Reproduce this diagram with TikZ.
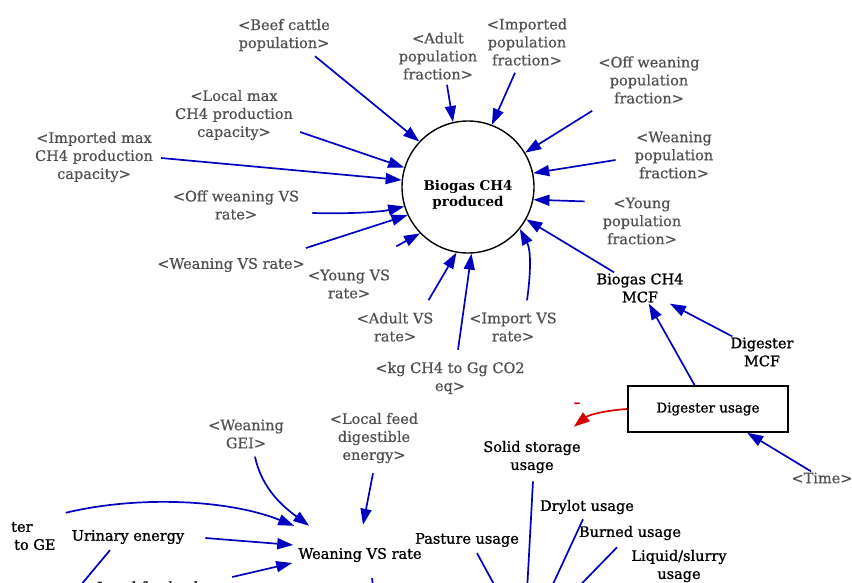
\documentclass[tikz,border=0pt]{standalone}
\usepackage{fontspec}
\setmainfont{DejaVu Serif}
\newfontfamily\shadowfont{DejaVu Serif}[FakeBold=0.6]
\newfontfamily\varfont{DejaVu Serif}[FakeBold=1.1]
\usetikzlibrary{arrows.meta}
\definecolor{linkblue}{RGB}{0,0,190}
\definecolor{shadowgray}{RGB}{80,80,80}
\definecolor{polred}{RGB}{215,0,0}
\tikzset{
  shadowvar/.style={text=shadowgray, align=center, font=\shadowfont\fontsize{14.5}{18}\selectfont, inner sep=1pt},
  var/.style={text=black, align=center, font=\varfont\fontsize{14.5}{18}\selectfont, inner sep=1pt},
  link/.style={draw=linkblue, line width=1.7pt, -{Triangle[length=16pt,width=11pt]}},
  plainlink/.style={draw=linkblue, line width=1.7pt},
  neglink/.style={draw=polred, line width=1.7pt, -{Triangle[length=16pt,width=11pt]}},
}
\begin{document}
\begin{tikzpicture}[x=1pt,y=-1pt]
\useasboundingbox (0,0) rectangle (852,582);
\clip (0,0) rectangle (852,582);

% central auxiliary
\node[draw, circle, line width=1.4pt, minimum size=132pt, inner sep=0pt] (c) at (468,187) {};
\node[var, font=\fontsize{13.5}{15.5}\selectfont\bfseries] (clab) at (468,195) {Biogas CH4\\produced};

% shadow variables
\node[shadowvar] (beef) at (284,35) {<Beef cattle\\population>};
\node[shadowvar] (lmax) at (234,115) {<Local max\\CH4 production\\capacity>};
\node[shadowvar] (imax) at (94,157) {<Imported max\\CH4 production\\capacity>};
\node[shadowvar] (offvs) at (236,205) {<Off weaning VS\\rate>};
\node[shadowvar] (wvs) at (231,265) {<Weaning VS rate>};
\node[shadowvar] (yvs) at (349,284) {<Young VS\\rate>};
\node[shadowvar] (avs) at (395,327) {<Adult VS\\rate>};
\node[shadowvar] (kg) at (450,378) {<kg CH4 to Gg CO2\\eq>};
\node[shadowvar] (ivs) at (513,327) {<Import VS\\rate>};
\node[shadowvar] (apop) at (438,56) {<Adult\\population\\fraction>};
\node[shadowvar] (ipop) at (527,42) {<Imported\\population\\fraction>};
\node[shadowvar] (opop) at (649,80) {<Off weaning\\population\\fraction>};
\node[shadowvar] (wpop) at (674,155) {<Weaning\\population\\fraction>};
\node[shadowvar] (ypop) at (642,221) {<Young\\population\\fraction>};
\node[shadowvar] (time) at (822,478) {<Time>};
\node[shadowvar] (gei) at (246,434) {<Weaning\\GEI>};
\node[shadowvar] (lfde) at (374,438) {<Local feed\\digestible\\energy>};

% model variables
\node[var] (mcf) at (640,288) {Biogas CH4\\MCF};
\node[var] (dmcf) at (762,352) {Digester\\MCF};
\node[draw, line width=1.5pt, minimum width=160pt, minimum height=46pt,
      font=\varfont\fontsize{13.5}{17}\selectfont] (usage) at (708,409) {Digester usage};
\node[var] (solid) at (532,457) {Solid storage\\usage};
\node[var] (drylot) at (587,507) {Drylot usage};
\node[var] (burned) at (630,533) {Burned usage};
\node[var] (liquid) at (679,566) {Liquid/slurry\\usage};
\node[var] (pasture) at (467,540) {Pasture usage};
\node[var] (wvsr) at (360,555) {Weaning VS rate};
\node[var] (urin) at (128,537) {Urinary energy};
\node[var, align=left, anchor=west] (ratio) at (10,536) {ter\\\hspace*{3pt}to GE};
\node[var] (ash) at (150,587) {Local feed ash};
\node[text=polred, font=\fontsize{14}{17}\selectfont\bfseries, inner sep=0pt] (minus) at (577,405) {–};

% links into Biogas CH4 produced
\draw[link] ([shift={(-16,4)}]beef.south east) -- (c.137);
\draw[link] ([shift={(6,17)}]lmax.east) -- (c.163);
\draw[link] ([shift={(7,1)}]imax.east) -- (c.174);
\draw[link] ([shift={(12,8)}]offvs.east) .. controls (350,214) and (380,212) .. (c.197);
\draw[link] ([shift={(0,-17)}]wvs.east) -- (c.205);
\draw[link] ([shift={(5,-22)}]yvs.north east) -- (c.224);
\draw[link] ([shift={(-6,-11)}]avs.north east) -- (c.260);
\draw[link] ([shift={(8,-11)}]kg.north) -- (c.273);
\draw[link] ([shift={(14,-11)}]ivs.north) .. controls (531,272) and (531,250) .. (c.321);
\draw[link] ([shift={(9,4)}]apop.south) -- (c.103);
\draw[link] ([shift={(-12,6)}]ipop.south) -- (c.69);
\draw[link] ([shift={(-5,6)}]opop.south west) -- (c.31);
\draw[link] ([shift={(-18,5)}]wpop.west) -- (c.12);
\draw[link] ([shift={(-17,5)}]ypop.north west) -- (c.349);
\draw[link] (mcf) -- (c.331);

% MCF and digester usage
\draw[link] (dmcf) -- (mcf);
\draw[link] (usage) -- (mcf);
\draw[link] (time) -- (usage);
\draw[neglink] (usage.west) .. controls (610,410) and (590,414) .. ([shift={(-8,-13)}]solid.north east);

% links into Weaning VS rate
\draw[link] ([shift={(9,-8)}]ratio.north east) .. controls (140,495) and (230,500) .. ([shift={(-3,-21)}]wvsr.north west);
\draw[link] ([shift={(9,7)}]gei.south) .. controls (262,490) and (285,508) .. ([shift={(12,-21)}]wvsr.north west);
\draw[link] ([shift={(-1,9)}]lfde.south) -- ([shift={(3,-22)}]wvsr.north);
\draw[link] ([shift={(20,1)}]urin.east) -- ([shift={(-4,-10)}]wvsr.west);
\draw[link] ([shift={(28,-10)}]ash.east) -- ([shift={(-5,8)}]wvsr.west);

% links leaving towards the lower part of the model
\coordinate (solidOut) at (526,610);
\coordinate (drylotOut) at (541,610);
\coordinate (burnedOut) at (556,610);
\coordinate (pastureOut) at (508,610);
\coordinate (urinOut) at (60,610);
\coordinate (wvsrOut) at (376,610);
\draw[plainlink] ([shift={(1,7)}]solid.south) -- (solidOut);
\draw[plainlink] ([shift={(-4,4)}]drylot.south) -- (drylotOut);
\draw[plainlink] ([shift={(-13,6)}]burned.south) -- (burnedOut);
\draw[plainlink] ([shift={(10,5)}]pasture.south) -- (pastureOut);
\draw[plainlink] ([shift={(-18,5)}]urin.south) -- (urinOut);
\draw[plainlink] ([shift={(12,15)}]wvsr.south) -- (wvsrOut);
\end{tikzpicture}
\end{document}
